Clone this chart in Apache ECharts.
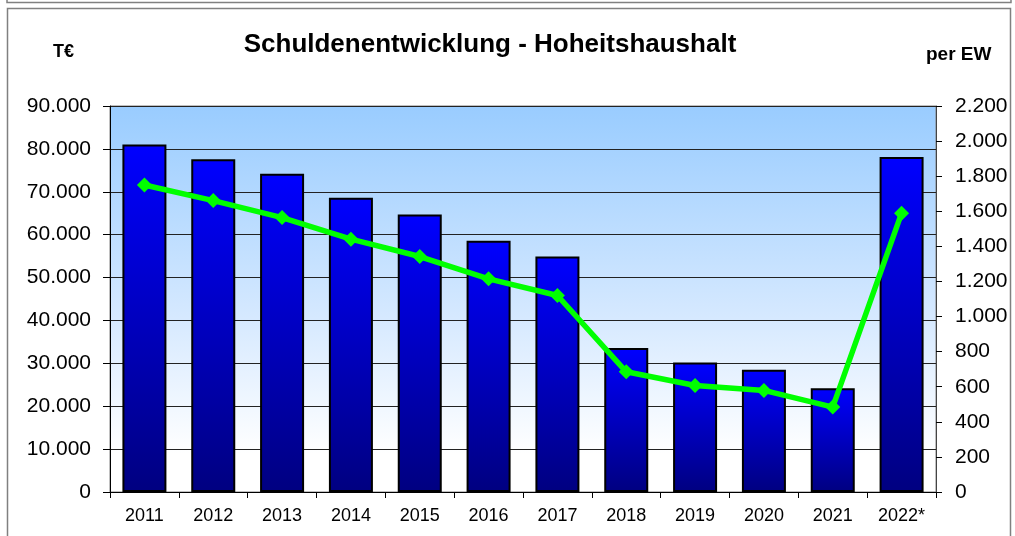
<!DOCTYPE html>
<html>
<head>
<meta charset="utf-8">
<script src="https://cdn.jsdelivr.net/npm/echarts@6/dist/echarts.min.js"></script>
<style>html,body{margin:0;padding:0;background:#fff;}#c{width:1015px;height:536px;}</style>
</head>
<body>
<div id="c"></div>
<script>
var categories = ['2011','2012','2013','2014','2015','2016','2017','2018','2019','2020','2021','2022*'];
var debtTEuro = [81000, 77600, 74200, 68600, 64700, 58600, 54900, 33600, 30200, 28500, 24200, 78100];
var debtPerResident = [1750, 1661, 1564, 1441, 1342, 1215, 1120, 685, 607, 579, 484, 1589];
var leftTicks = [0, 10000, 20000, 30000, 40000, 50000, 60000, 70000, 80000, 90000];
var rightTicks = [0, 200, 400, 600, 800, 1000, 1200, 1400, 1600, 1800, 2000, 2200];

function de(v){ return String(v).replace(/\B(?=(\d{3})+(?!\d))/g, '.'); }
var FONT = "'Liberation Sans', Arial, sans-serif";

var chart = echarts.init(document.getElementById('c'), null, {renderer:'canvas'});
chart.setOption({
  animation: false,
  backgroundColor: '#ffffff',
  textStyle: {fontFamily: FONT},
  title: {
    text: 'Schuldenentwicklung - Hoheitshaushalt',
    left: 485, top: 27, textAlign: 'center',
    textStyle: {fontFamily: FONT, fontSize: 26, fontWeight: 'bold', color: '#000'}
  },
  graphic: [
    {type:'rect', shape:{x:7,y:-10,width:1004,height:12.5}, style:{fill:null, stroke:'#808080', lineWidth:1.5}, silent:true, z:-1},
    {type:'rect', shape:{x:7.5,y:8.5,width:1003,height:540}, style:{fill:null, stroke:'#808080', lineWidth:1.5}, silent:true, z:-1},
    {type:'text', left:53, top:43, style:{text:'T€', font:'bold 18px ' + FONT, fill:'#000'}},
    {type:'text', left:926, top:45, style:{text:'per EW', font:'bold 19px ' + FONT, fill:'#000'}}
  ],
  grid: {
    left: 110, right: 79, top: 106, bottom: 44,
    show: true,
    borderColor: '#808080', borderWidth: 1,
    backgroundColor: new echarts.graphic.LinearGradient(0,0,0,1,[
      {offset:0, color:'#99CCFF'},
      {offset:0.55, color:'#D6E9FF'},
      {offset:0.9, color:'#FFFFFF'},
      {offset:1, color:'#FFFFFF'}
    ])
  },
  xAxis: {
    type: 'category',
    data: categories,
    axisLine: {lineStyle:{color:'#000', width:1}},
    axisTick: {show:true, length:6, lineStyle:{color:'#000'}},
    axisLabel: {fontSize: 18, color:'#000', margin: 15, fontFamily: FONT}
  },
  yAxis: [
    {
      type: 'value', min: 0, max: 90000, interval: 10000,
      axisLine: {show:true, lineStyle:{color:'#000', width:1}},
      axisTick: {show:true, length:7, lineStyle:{color:'#000'}},
      axisLabel: {fontSize: 21, color:'#000', margin: 19, fontFamily: FONT, formatter: function(v){return de(v);}},
      splitLine: {show:true, lineStyle:{color:'#222', width:1}}
    },
    {
      type: 'value', min: 0, max: 2200, interval: 200,
      position: 'right',
      axisLine: {show:true, lineStyle:{color:'#444', width:1}},
      axisTick: {show:true, length:6, lineStyle:{color:'#000'}},
      axisLabel: {fontSize: 21, color:'#000', margin: 19, fontFamily: FONT, formatter: function(v){return de(v);}},
      splitLine: {show:false}
    }
  ],
  series: [
    {
      type: 'bar', yAxisIndex: 0, data: debtTEuro, barWidth: 44,
      itemStyle: {
        color: new echarts.graphic.LinearGradient(0,0,0,1,[
          {offset:0, color:'#0000FF'},
          {offset:1, color:'#000080'}
        ]),
        borderColor: '#000', borderWidth: 2
      },
      z: 2
    },
    {
      type: 'line', yAxisIndex: 1, data: debtPerResident,
      lineStyle: {color:'#00FF00', width:5.5},
      itemStyle: {color:'#00FF00'},
      symbol: 'diamond', symbolSize: 15,
      z: 3
    }
  ]
});
</script>
</body>
</html>
